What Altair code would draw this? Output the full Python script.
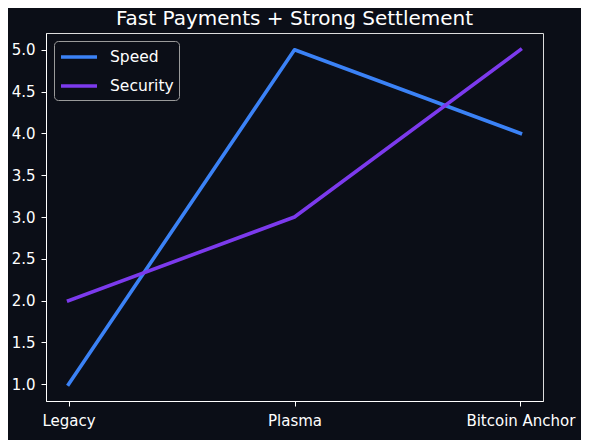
import altair as alt
import pandas as pd

categories = ["Legacy", "Plasma", "Bitcoin Anchor"]
speed = [1, 5, 4]
security = [2, 3, 5]
series = ["Speed", "Security"]
colors = ["#3b82f6", "#7c3aed"]
y_ticks = [1.0, 1.5, 2.0, 2.5, 3.0, 3.5, 4.0, 4.5, 5.0]

rows = []
for c, v in zip(categories, speed):
    rows.append({"stage": c, "series": "Speed", "value": v})
for c, v in zip(categories, security):
    rows.append({"stage": c, "series": "Security", "value": v})
df = pd.DataFrame(rows)

BG = "#0b0e17"
FONT = "DejaVu Sans"

chart = (
    alt.Chart(df)
    .mark_line(strokeWidth=3.6, strokeCap="square", strokeJoin="round")
    .encode(
        x=alt.X(
            "stage:N",
            sort=categories,
            scale=alt.Scale(type="point", padding=0.1, domain=categories),
            axis=alt.Axis(
                title=None,
                labelAngle=0,
                labelFontSize=15,
                labelPadding=7,
                tickSize=5,
                labelColor="white",
                tickColor="white",
                domainColor="white",
                grid=False,
            ),
        ),
        y=alt.Y(
            "value:Q",
            scale=alt.Scale(domain=[0.8, 5.2], nice=False, zero=False),
            axis=alt.Axis(
                title=None,
                values=y_ticks,
                format=".1f",
                labelFontSize=15,
                labelPadding=6,
                tickSize=5,
                labelColor="white",
                tickColor="white",
                domainColor="white",
                grid=False,
            ),
        ),
        color=alt.Color(
            "series:N",
            scale=alt.Scale(domain=series, range=colors),
            legend=alt.Legend(
                title=None,
                orient="top-left",
                offset=8,
                padding=5,
                symbolType="M-1,0H3",
                symbolSize=324,
                symbolStrokeWidth=3.6,
                labelOffset=29,
                rowPadding=9,
                labelFontSize=15.5,
                labelColor="white",
                strokeColor="#9a9a9a",
                fillColor=BG,
                cornerRadius=4,
            ),
        ),
        order=alt.Order("stage_idx:Q"),
    )
    .transform_calculate(
        stage_idx="indexof(['Legacy','Plasma','Bitcoin Anchor'], datum.stage)"
    )
    .properties(
        width=497,
        height=368,
        autosize=alt.AutoSizeParams(type="none"),
        padding={"left": 38, "top": 25, "right": 38, "bottom": 39},
        background=BG,
        title=alt.TitleParams(
            "Fast Payments + Strong Settlement",
            fontSize=20,
            fontWeight="normal",
            color="white",
            font=FONT,
            anchor="middle",
            offset=4,
        ),
    )
    .configure_view(stroke="white", strokeWidth=1, fill=BG)
    .configure(font=FONT)
)

chart.save("out.html", embed_options={"renderer": "svg", "actions": False})
